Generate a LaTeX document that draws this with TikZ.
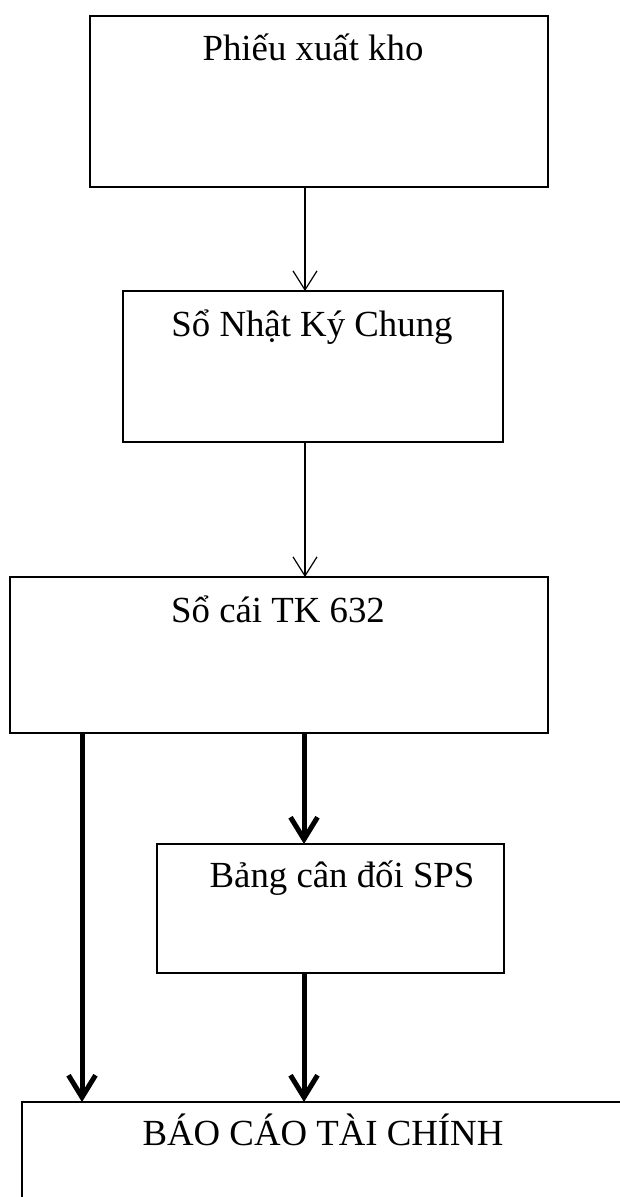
\documentclass[tikz,border=0pt]{standalone}
\usepackage{fontspec}
\setmainfont{Liberation Serif}
\usetikzlibrary{arrows.meta}
\begin{document}
\begin{tikzpicture}[x=1pt,y=-1pt,
  box/.style={draw,line width=1.2pt,rectangle,outer sep=0pt,inner sep=0pt},
  lbl/.style={anchor=base,inner sep=0pt,font=\fontsize{36.8}{40}\selectfont},
  flow/.style={line width=1.2pt,-{Straight Barb[length=19pt,width=24pt]}},
  boldflow/.style={line width=5pt,-{Straight Barb[length=22pt,width=27pt]}}]
  \path[use as bounding box] (0,0) rectangle (620,1197);
  \clip (0,0) rectangle (620,1197);

  % boxes
  \node[box,minimum width=458pt,minimum height=171pt] (b1) at (319,101.5) {};
  \node[box,minimum width=380pt,minimum height=151pt] (b2) at (313,366.5) {};
  \node[box,minimum width=538pt,minimum height=156pt] (b3) at (279,655) {};
  \node[box,minimum width=347pt,minimum height=129pt] (b4) at (330.5,908.5) {};
  \node[box,minimum width=628pt,minimum height=128pt] (b5) at (336,1166) {};

  % titles
  \node[lbl] (t1) at (313,60) {Phiếu xuất kho};
  \node[lbl] (t2) at (312,336) {Sổ Nhật Ký Chung};
  \node[lbl] (t3) at (278,622) {Sổ cái TK 632};
  \node[lbl] (t4) at (342,887) {Bảng cân đối SPS};
  \node[lbl] (t5) at (323,1145) {BÁO CÁO TÀI CHÍNH};

  % connector columns
  \coordinate (cmid) at (305,0);
  \coordinate (cbold) at (304,0);
  \coordinate (cleft) at (82,0);

  \draw[flow] (b1.south -| cmid) -- (b2.north -| cmid);
  \draw[flow] (b2.south -| cmid) -- (b3.north -| cmid);
  \draw[boldflow] (b3.south -| cbold) -- (b4.north -| cbold);
  \draw[boldflow] (b4.south -| cbold) -- (b5.north -| cbold);
  \draw[boldflow] (b3.south -| cleft) -- (b5.north -| cleft);
\end{tikzpicture}
\end{document}
